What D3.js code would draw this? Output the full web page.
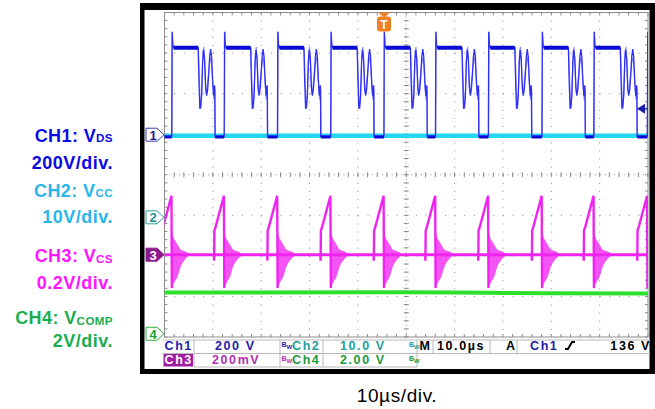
<!DOCTYPE html>
<html>
<head>
<meta charset="utf-8">
<title>Scope capture</title>
<script src="https://cdn.jsdelivr.net/npm/d3@7/dist/d3.min.js"></script>
<style>
  body { margin: 0; background: #fff; }
  svg text { font-family: "Liberation Sans", Arial, sans-serif; }
</style>
</head>
<body>
<svg id="chart" width="655" height="409"></svg>
<script>
const channels = ["CH1", "CH2", "CH3", "CH4"];
const channelSub = ["DS", "CC", "CS", "COMP"];
const scaleLabels = ["200V/div.", "10V/div.", "0.2V/div.", "2V/div."];
const voltsPerDiv = [200, 10, 0.2, 2];
const groundDiv = [0.95, -1.05, -1.97, -3.92];   // channel zero, in divisions from centre
const timeLabel = "10\u00b5s/div.";
const triggerTime = 45.4;     // us from left edge
const triggerLevel = 136;     // V on Ch1

// Ch1 VDS: rising edges (us) and one period measured from its rising edge
const vdsRise = [-9.6, 1.49, 12.34, 23.36, 34.37, 45.37, 56.04, 66.98, 78.06, 88.79, 99.86];
const vdsT = [0, 0.08, 0.21, 0.41, 5.47, 5.63, 5.82, 5.99, 6.19, 6.40, 6.60, 6.81, 7.02, 7.22, 7.43, 7.64, 7.84, 8.05, 8.26, 8.46, 8.67, 8.79, 8.90, 8.96];
const vdsV = [0, 515, 450, 436, 436, 280, 135, 150, 200, 370, 425, 380, 240, 200, 230, 300, 390, 430, 390, 280, 200, 240, 250, 0];
// second sweep seen in the persistence (lighter trace)
const vdsAltV = [0, 515, 450, 436, 436, 300, 180, 135, 250, 420, 440, 330, 215, 230, 280, 330, 370, 390, 330, 240, 180, 200, 230, 0];

// Ch2 VCC
const vccT = [0, 100];
const vccV = [20.1, 20.1];

// Ch3 VCS: ramp before turn-off, then ringing envelope after it
const csT = [-2.12, -2.08, -2.02, -1.85, -0.05, 0.03];
const csV = [0, -0.03, 0.12, 0.13, 0.29, -0.165];
const ringT = [0.05, 0.3, 0.7, 1.2, 1.85, 2.9, 3.6];
const ringHi = [0.12, 0.09, 0.07, 0.05, 0.025, 0.015, 0.005];
const ringLo = [-0.165, -0.15, -0.13, -0.11, -0.06, -0.02, -0.005];

// Ch4 VCOMP
const compT = [0, 20, 40, 50, 60, 80, 100];
const compV = [2.03, 2.04, 2.05, 2.05, 2.03, 2.0, 1.98];

// ---- drawing ----
const svg = d3.select("#chart");
const chColor = ["#0a0ae6", "#2ab6ea", "#ff14ff", "#1aae4e"];
const traceColor = ["#2f2ff5", "#22d8f0", "#f024f0", "#2ee02e"];

const L = 164.5, R = 648, T = 12.5, B = 337;
const x = d3.scaleLinear().domain([0, 100]).range([L, R]);
const yDiv = d3.scaleLinear().domain([-4, 4]).range([B, T]);
const yCh = i => v => yDiv(groundDiv[i] + v / voltsPerDiv[i]);
const dx = (R - L) / 10, dy = (B - T) / 8;

// black frame
svg.append("rect").attr("x", 140).attr("y", 3).attr("width", 515).attr("height", 371).attr("fill", "#000");
svg.append("rect").attr("x", 144.5).attr("y", 10).attr("width", 505).attr("height", 359).attr("fill", "#fff");

// graticule
const grid = svg.append("g").attr("stroke", "#8c8c8c").attr("fill", "none");
d3.range(1, 10).forEach(i => {
  grid.append("line").attr("x1", x(i * 10)).attr("x2", x(i * 10)).attr("y1", T).attr("y2", B)
    .attr("stroke-dasharray", i === 5 ? "1," + (dy / 10 - 1) : "1," + (dy / 5 - 1));
});
d3.range(-3, 4).forEach(d => {
  grid.append("line").attr("y1", yDiv(d)).attr("y2", yDiv(d)).attr("x1", L).attr("x2", R)
    .attr("stroke-dasharray", d === 0 ? "1," + (dx / 10 - 1) : "1," + (dx / 5 - 1));
});
// minor ticks on centre lines and border
d3.range(0, 51).forEach(k => {
  const px = L + k * dx / 5;
  grid.append("line").attr("x1", px).attr("x2", px).attr("y1", yDiv(0) - 2.5).attr("y2", yDiv(0) + 2.5);
  grid.append("line").attr("x1", px).attr("x2", px).attr("y1", T).attr("y2", T + 3);
  grid.append("line").attr("x1", px).attr("x2", px).attr("y1", B - 3).attr("y2", B);
});
d3.range(0, 41).forEach(k => {
  const py = T + k * dy / 5;
  grid.append("line").attr("y1", py).attr("y2", py).attr("x1", x(50) - 2.5).attr("x2", x(50) + 2.5);
  grid.append("line").attr("y1", py).attr("y2", py).attr("x1", L).attr("x2", L + 3);
  grid.append("line").attr("y1", py).attr("y2", py).attr("x1", R - 3).attr("x2", R);
});
grid.append("rect").attr("x", L).attr("y", T).attr("width", R - L).attr("height", B - T);

svg.append("clipPath").attr("id", "scr").append("rect")
  .attr("x", L).attr("y", T).attr("width", R - L).attr("height", B - T);
const traces = svg.append("g").attr("clip-path", "url(#scr)").attr("fill", "none");

// Ch4
const y4 = yCh(3);
traces.append("path").datum(d3.zip(compT, compV))
  .attr("d", d3.line().x(d => x(d[0])).y(d => y4(d[1])))
  .attr("stroke", traceColor[3]).attr("stroke-width", 4);

// Ch3
const y3 = yCh(2);
traces.append("line").attr("x1", L).attr("x2", R).attr("y1", y3(0)).attr("y2", y3(0))
  .attr("stroke", traceColor[2]).attr("stroke-width", 3);
vdsRise.forEach(r => {
  traces.append("path").datum(d3.zip(csT, csV))
    .attr("d", d3.line().x(d => x(r + d[0])).y(d => y3(d[1])))
    .attr("stroke", traceColor[2]).attr("stroke-width", 2.4);
  traces.append("path").datum(d3.range(ringT.length))
    .attr("d", d3.area().x(k => x(r + ringT[k])).y0(k => y3(ringLo[k])).y1(k => y3(ringHi[k])).curve(d3.curveMonotoneX))
    .attr("fill", traceColor[2]).attr("opacity", 0.78);
});

// Ch2
const y2 = yCh(1);
traces.append("path").datum(d3.zip(vccT, vccV))
  .attr("d", d3.line().x(d => x(d[0])).y(d => y2(d[1])))
  .attr("stroke", traceColor[1]).attr("stroke-width", 4.5);

// Ch1
const y1 = yCh(0);
const vdsLine = d3.line().x(d => x(d[0])).y(d => y1(d[1]));
traces.append("path").datum(vdsRise.flatMap(r => vdsT.map((t, k) => [r + t + 0.06, vdsAltV[k]])))
  .attr("d", vdsLine).attr("stroke", "#8a8aff").attr("stroke-width", 1.1);
traces.append("path").datum(vdsRise.flatMap(r => vdsT.map((t, k) => [r + t, vdsV[k]])))
  .attr("d", vdsLine).attr("stroke", traceColor[0]).attr("stroke-width", 1.3);
vdsRise.forEach((r, k) => {
  traces.append("line").attr("x1", x(r + vdsT[3])).attr("x2", x(r + vdsT[4]))
    .attr("y1", y1(vdsV[3])).attr("y2", y1(vdsV[4]))
    .attr("stroke", "#0a0ad8").attr("stroke-width", 4);
  if (k + 1 < vdsRise.length) {
    traces.append("line").attr("x1", x(r + vdsT[vdsT.length - 1])).attr("x2", x(vdsRise[k + 1]))
      .attr("y1", y1(-4)).attr("y2", y1(-4)).attr("stroke", "#0a0ad8").attr("stroke-width", 3);
  }
});

// trigger level marker on the right
const tl = y1(triggerLevel);
svg.append("path").attr("d", `M${R - 11},${tl} L${R - 3},${tl - 5} L${R - 3},${tl + 5} Z`).attr("fill", "#1c1ca8");
svg.append("line").attr("x1", R - 3).attr("x2", R).attr("y1", tl).attr("y2", tl).attr("stroke", "#1c1ca8");

// trigger position marker on top
const tx = x(triggerTime);
svg.append("path").attr("d", `M${tx - 6},${T} L${tx + 6},${T} L${tx},${T + 5} Z`).attr("fill", "#f08022");
svg.append("rect").attr("x", tx - 7).attr("y", T + 4).attr("width", 14).attr("height", 15).attr("rx", 3).attr("fill", "#f08022");
svg.append("text").attr("x", tx).attr("y", T + 16).attr("text-anchor", "middle")
  .attr("fill", "#fff").attr("font-size", 12).attr("font-weight", "bold").text("T");

// channel ground markers on the left
const markStroke = ["#3a3ab0", "#2aa0a0", "#8c1a8c", "#30b040"];
const markText = ["#1c1c90", "#1a9090", "#fff", "#22a030"];
[0, 1, 2, 3].forEach(i => {
  const my = yDiv(groundDiv[i]) - (i === 0 ? 1.5 : 0);
  svg.append("path")
    .attr("d", `M146,${my - 6.5} L157,${my - 6.5} L164,${my} L157,${my + 6.5} L146,${my + 6.5} Z`)
    .attr("fill", i === 2 ? markStroke[i] : "#fff").attr("stroke", markStroke[i]).attr("stroke-width", 1);
  svg.append("text").attr("x", 153).attr("y", my + 5).attr("text-anchor", "middle")
    .attr("fill", markText[i]).attr("font-size", 13).attr("font-weight", "bold").text(i + 1);
});

// left legend
const nameY = [141.7, 196.6, 262, 324.3];
const scaleY = [169.4, 222.6, 289.3, 346.8];
channels.forEach((c, i) => {
  const t = svg.append("text").attr("x", 113).attr("y", nameY[i]).attr("text-anchor", "end")
    .attr("fill", chColor[i]).attr("font-size", 18).attr("font-weight", "bold").attr("letter-spacing", 0.4);
  t.append("tspan").text(c + ": V");
  t.append("tspan").attr("font-size", 11.6).attr("dy", 0.5).text(channelSub[i]);
  svg.append("text").attr("x", 113).attr("y", scaleY[i]).attr("text-anchor", "end")
    .attr("fill", chColor[i]).attr("font-size", 18).attr("font-weight", "bold")
    .attr("letter-spacing", 0.5).text(scaleLabels[i]);
});

// status readout under the screen
const sb = svg.append("g");
const boxC = "#b8b8b8";
const hl = (x1, x2, yy) => sb.append("line").attr("x1", x1).attr("x2", x2).attr("y1", yy).attr("y2", yy).attr("stroke", boxC);
const vl = (xx, y1_, y2_) => sb.append("line").attr("x1", xx).attr("x2", xx).attr("y1", y1_).attr("y2", y2_).attr("stroke", boxC);
hl(163, 650, 340); hl(163, 650, 353.5); hl(194, 417, 367);
[194, 280, 323, 417].forEach(v => vl(v, 340, 367));
[433, 490, 517].forEach(v => vl(v, 340, 353.5));
sb.append("rect").attr("x", 163.5).attr("y", 354).attr("width", 29.5).attr("height", 12.5).attr("fill", "#a01ea0");

const st = (xx, yy, s, col, anchor) => sb.append("text").attr("x", xx).attr("y", yy)
  .attr("text-anchor", anchor || "start").attr("fill", col).attr("font-size", 12.5)
  .attr("font-weight", "bold").attr("letter-spacing", 1.6).text(s);
const bw = (xx, yy, col) => {
  const t = sb.append("text").attr("x", xx).attr("y", yy).attr("fill", col).attr("font-size", 7).attr("font-weight", "bold");
  t.append("tspan").text("B");
  t.append("tspan").attr("font-size", 6).attr("dy", 2).text("W");
};
const r1 = 350, r2 = 363.8;
st(164.5, r1, "Ch1", "#1c1ca8"); st(215, r1, "200 V", "#1c1ca8"); bw(281.5, r1 - 3, "#1c1ca8");
st(292, r1, "Ch2", "#1aa0a0"); st(340, r1, "10.0 V", "#1aa0a0"); bw(409, r1 - 3, "#1aa0a0");
st(419.5, r1, "M", "#000"); st(437, r1, "10.0\u00b5s", "#000");
st(506, r1, "A", "#000"); st(530, r1, "Ch1", "#1c1ca8"); st(651, r1, "136 V", "#000", "end");
sb.append("path").attr("d", `M565,${r1 - 1} L568,${r1 - 1} L572,${r1 - 8} L575,${r1 - 8}`)
  .attr("fill", "none").attr("stroke", "#000").attr("stroke-width", 2);
st(164.5, r2, "Ch3", "#fff"); st(212, r2, "200mV", "#b030b0"); bw(281.5, r2 - 3, "#b030b0");
st(292, r2, "Ch4", "#1a9a3a"); st(340, r2, "2.00 V", "#1a9a3a"); bw(409, r2 - 3, "#1a9a3a");

// time base caption
svg.append("text").attr("x", 397).attr("y", 402.3).attr("text-anchor", "middle")
  .attr("font-size", 19).attr("letter-spacing", 0.6).attr("fill", "#000").text(timeLabel);
</script>
</body>
</html>
